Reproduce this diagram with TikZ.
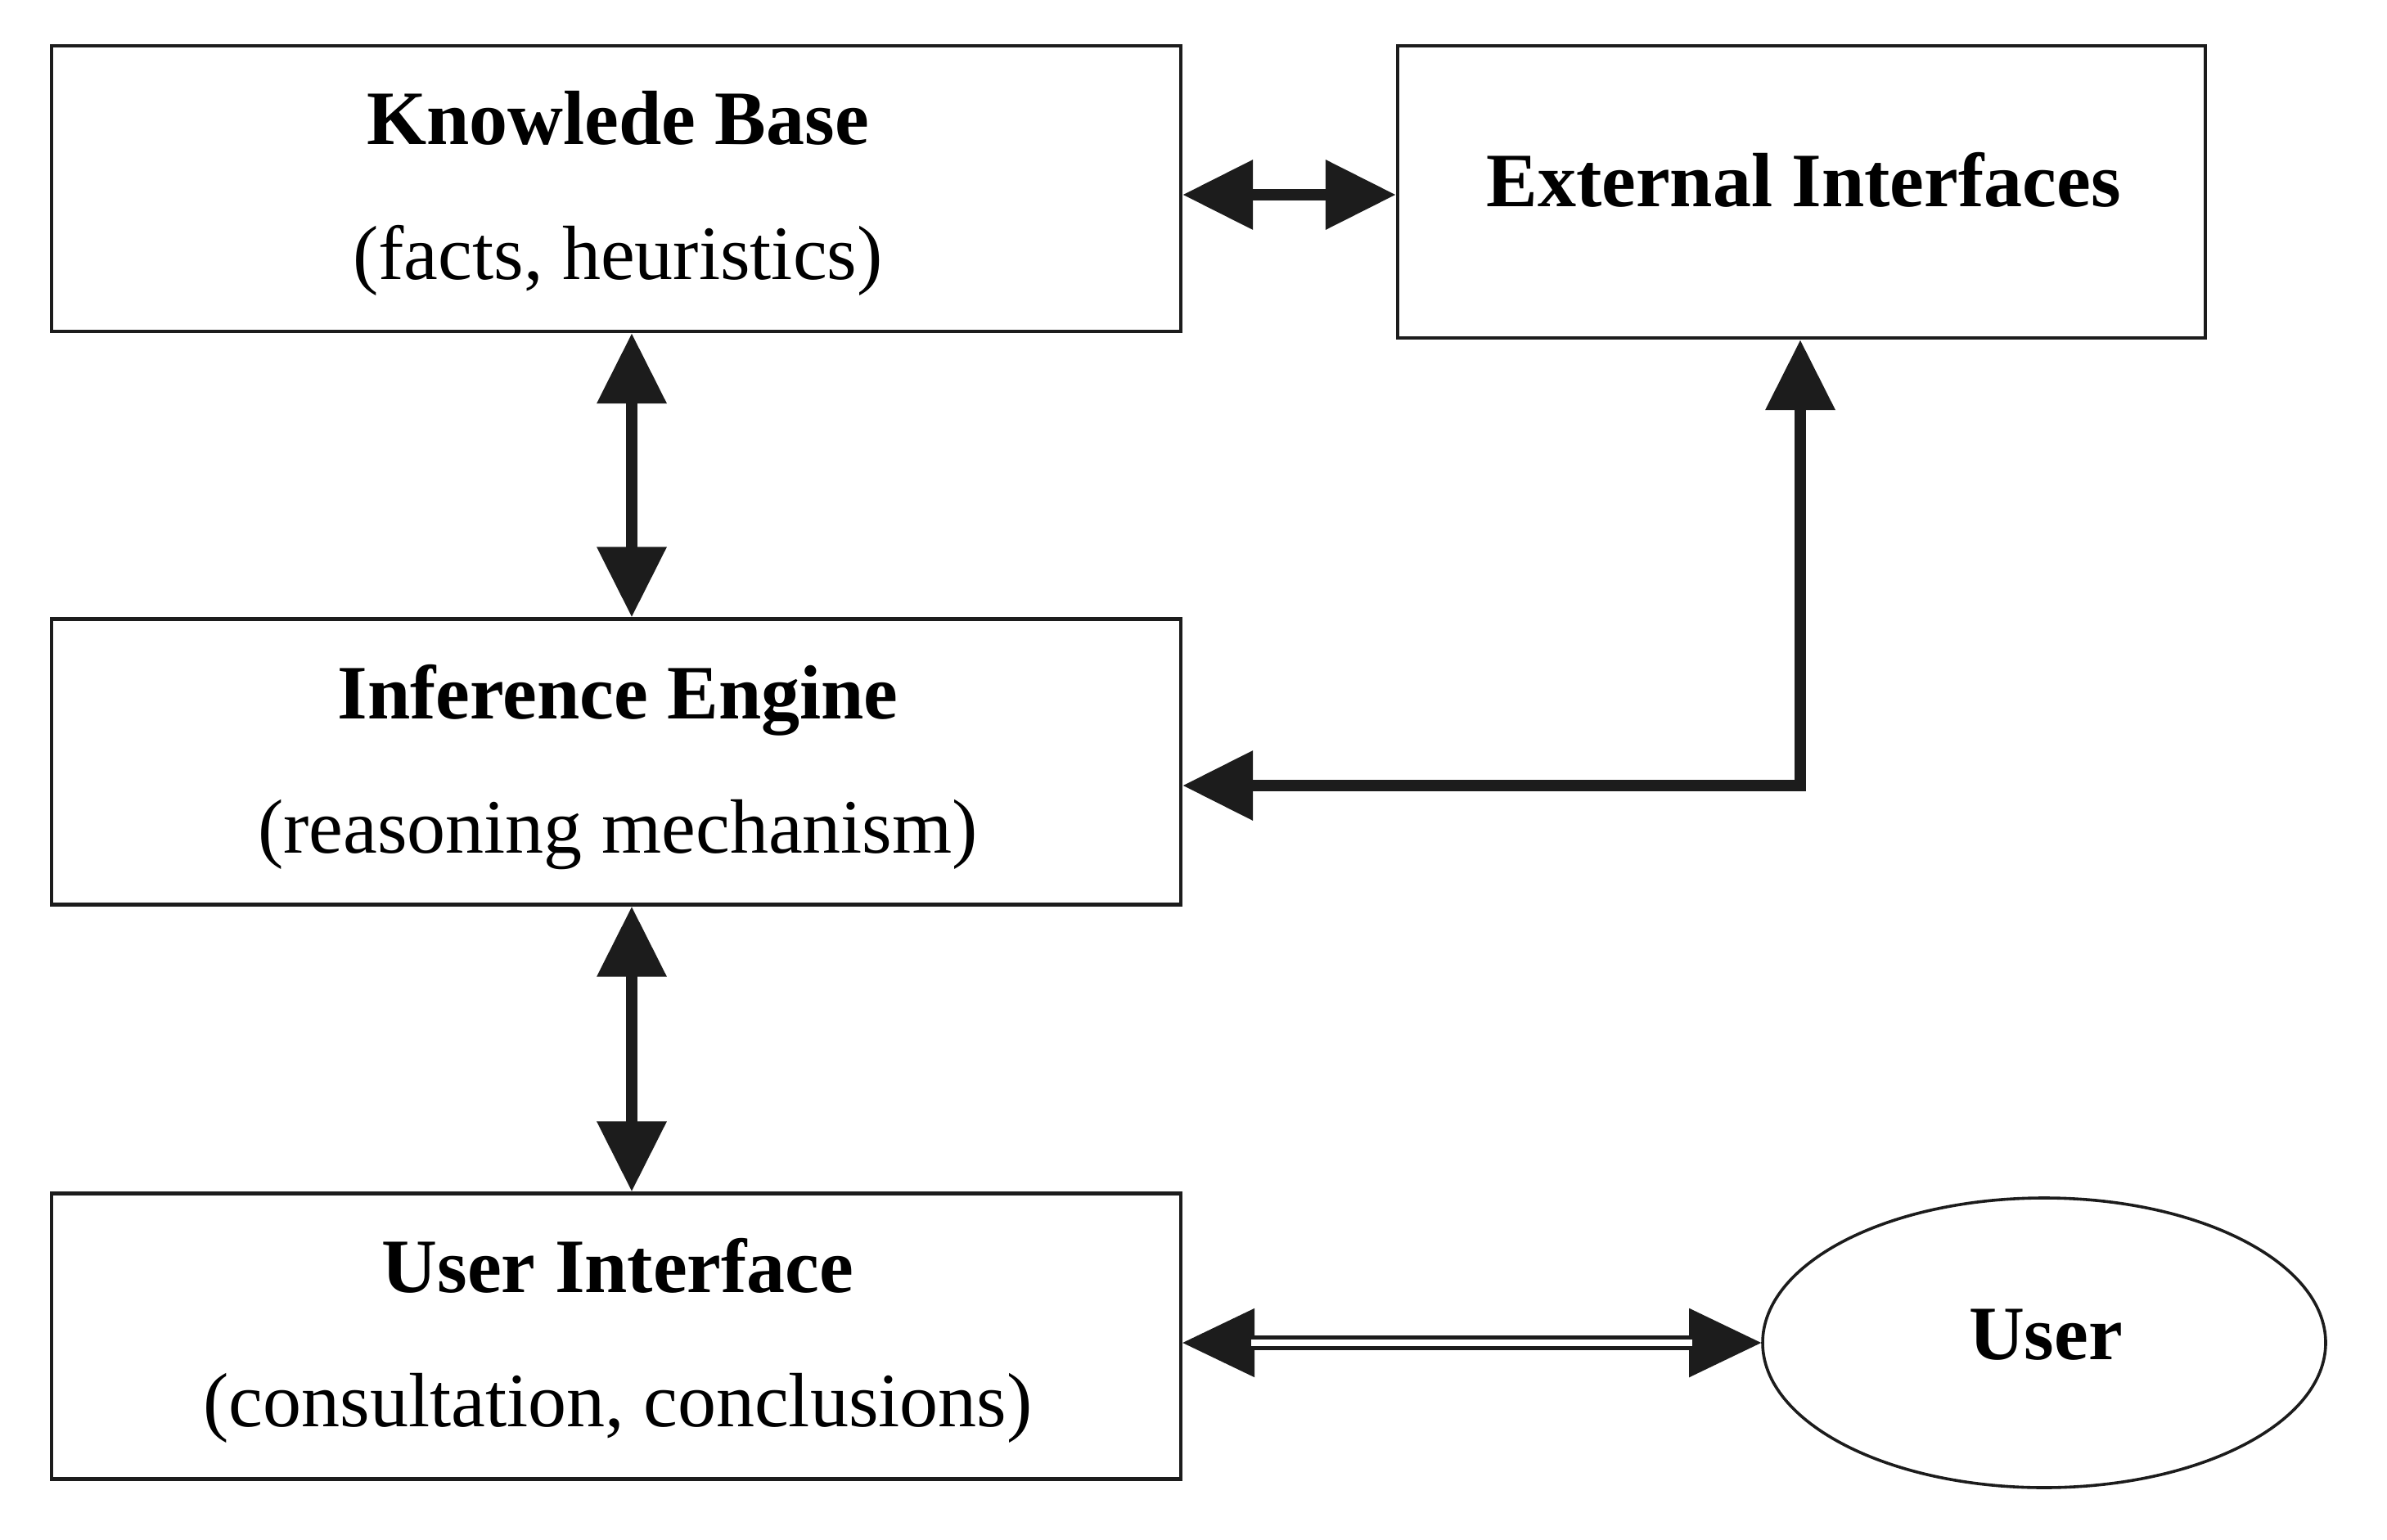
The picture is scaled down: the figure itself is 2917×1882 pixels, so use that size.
\documentclass[tikz,border=0pt]{standalone}
\usepackage{fontspec}
\setmainfont{Liberation Serif}
\usetikzlibrary{arrows.meta,shapes.geometric}
\definecolor{ink}{HTML}{1C1C1C}
\begin{document}
\begin{tikzpicture}[x=0.5pt,y=-0.5pt,
  box/.style={draw=ink,line width=2.2pt,inner sep=0pt,minimum width=690pt,minimum height=174.5pt},
  title/.style={anchor=base,inner sep=0pt,font=\fontsize{47}{56}\selectfont\bfseries},
  sub/.style={anchor=base,inner sep=0pt,font=\fontsize{47}{56}\selectfont},
  arr/.style={draw=ink,line width=7pt,{Triangle[length=43pt,width=41pt]}-{Triangle[length=43pt,width=41pt]},line join=miter},
  tips/.style={draw=ink,line width=1pt,{Triangle[length=44pt,width=42pt]}-{Triangle[length=44pt,width=42pt]}},
  dbl/.style={draw=ink,line width=2.6pt,double=white,double distance=4.2pt}
]
\useasboundingbox (0,0) rectangle (2917,1882);
% boxes
\node[box] (kb) at (753,230.5) {};
\node[box,minimum width=493.5pt,minimum height=178.5pt] (ei) at (2201.5,234.5) {};
\node[box] (ie) at (753,931) {};
\node[box] (ui) at (753,1633) {};
\node[draw=ink,line width=1.8pt,ellipse,minimum width=344pt,minimum height=177pt,inner sep=0pt] (user) at (2498,1641) {};
% texts
\node[title] (kbt) at (755,177) {Knowlede Base};
\node[sub] (kbs) at (755,342) {(facts, heuristics)};
\node[title] (eit) at (2204,253) {External Interfaces};
\node[title] (iet) at (755,878) {Inference Engine};
\node[sub] (ies) at (755,1042) {(reasoning mechanism)};
\node[title] (uit) at (755,1579) {User Interface};
\node[sub] (uis) at (755,1743) {(consultation, conclusions)};
\node[title] (usert) at (2500,1661) {User};
% connectors
\coordinate (colx) at (772,0);
\coordinate (elbow) at (2200,960);
\draw[arr] (kb.east |- 0,238) -- (ei.west |- 0,238);
\draw[arr] (kb.south -| colx) -- (ie.north -| colx);
\draw[arr] (ie.south -| colx) -- (ui.north -| colx);
\draw[arr] (elbow -| ie.east) -- (elbow) -- (elbow |- ei.south);
\draw[tips] (ui.east |- user.west) -- (user.west);
\draw[dbl,shorten <=42pt,shorten >=42pt] (ui.east |- user.west) -- (user.west);
\end{tikzpicture}
\end{document}
